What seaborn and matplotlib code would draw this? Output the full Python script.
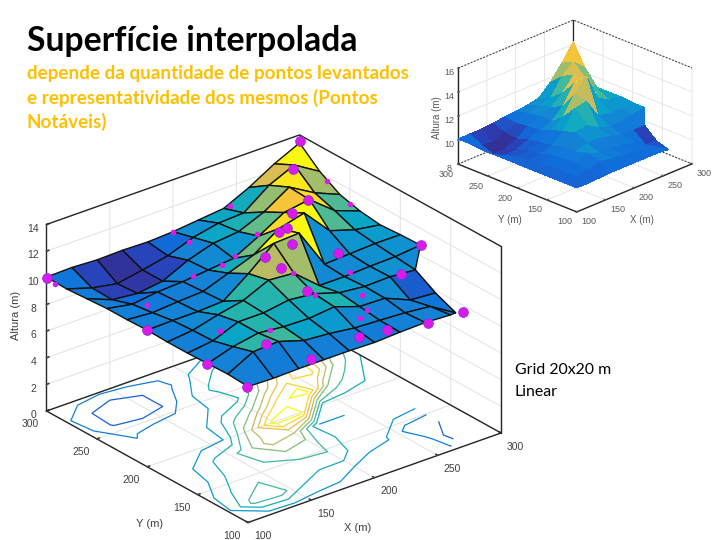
import numpy as np
import seaborn as sns
import matplotlib.pyplot as plt

sns.set_theme(style="white")
plt.rcParams['font.family'] = ['Liberation Sans', 'DejaVu Sans']

nan = np.nan
grid_x = [100, 120, 140, 160, 180, 200, 220, 240, 260, 280, 300]
grid_y = [100, 120, 140, 160, 180, 200, 220, 240, 260, 280, 300]

# rows are y, columns are x
main_z = [
    [10.2, 10.15, 10.2, 10.2, 10.2, 10.15, 10.25, 10.3, 10.2, nan, nan],
    [10.3, 11.3, 11.4, 10.8, 10.65, 10.4, 10.3, 10.2, 10.0, 8.85, nan],
    [10.25, 10.85, 11.2, 11.0, 10.95, 11.15, 10.5, 10.45, 9.65, 9.5, nan],
    [10.2, 10.45, 11.2, 11.2, 11.5, 11.3, 10.7, 10.5, 10.55, 10.4, nan],
    [10.2, 10.4, 10.9, 11.3, 12.15, 12.0, 10.4, 10.4, 10.5, 10.55, 10.75],
    [10.25, 10.3, 10.3, 10.4, 11.8, 13.4, 13.5, 10.5, 10.6, 10.7, 10.7],
    [10.2, 10.05, 10.2, 10.3, 11.0, 11.7, 13.0, 13.5, 11.5, 10.9, 10.6],
    [10.2, 9.85, 10.1, 10.2, 10.4, 10.6, 11.6, 12.7, 13.0, 11.5, 10.8],
    [10.1, 9.35, 9.15, 9.4, 10.3, 10.9, 11.1, 11.9, 13.1, 12.0, 11.2],
    [10.0, 9.4, 9.05, 9.4, 9.8, 10.5, 10.9, 11.0, 12.4, 13.25, 12.1],
    [10.05, 10.1, 10.0, 10.05, 10.0, 10.1, 10.3, 10.5, 11.4, 12.5, 13.4],
]

inset_z = [
    [10.0, 10.0, 10.05, 10.1, 10.1, 10.1, 10.1, 10.1, 10.0, nan, nan],
    [10.0, 10.1, 10.3, 10.6, 10.4, 10.3, 10.2, 10.1, 9.8, 9.2, nan],
    [10.0, 10.1, 10.4, 10.9, 10.5, 10.5, 10.4, 10.2, 9.6, 9.5, nan],
    [10.0, 10.1, 10.4, 10.6, 10.9, 10.9, 10.7, 10.4, 10.4, 10.4, nan],
    [10.0, 10.0, 10.3, 10.6, 11.4, 11.6, 11.0, 10.7, 10.7, 10.9, 11.1],
    [10.0, 9.9, 10.0, 10.3, 11.1, 12.6, 12.8, 11.2, 11.0, 11.0, 11.1],
    [10.0, 9.8, 9.9, 10.2, 10.8, 11.5, 13.0, 14.1, 11.9, 11.3, 11.2],
    [10.0, 9.5, 9.6, 10.0, 10.4, 10.7, 11.6, 13.1, 13.0, 11.8, 11.2],
    [10.0, 9.2, 9.2, 9.7, 10.3, 10.8, 11.1, 11.9, 13.0, 12.3, 11.2],
    [10.1, 9.6, 9.4, 9.8, 10.2, 10.6, 10.9, 11.1, 12.5, 13.3, 12.4],
    [10.1, 10.1, 10.1, 10.2, 10.3, 10.4, 10.5, 10.7, 11.6, 12.8, 14.2],
]

contour_levels = [9.4, 9.9, 10.4, 10.8, 11.2, 11.6, 12.0, 12.4, 12.8, 13.2]

# survey points that sit on top of the surface
top_x = [298.4, 275.7, 256.8, 240.4, 224.5, 216.9, 213.1, 192.8, 202.3, 299.8, 252.7, 270.8,
         278.9, 244.2, 216.2, 196.4, 156.8, 138.6, 101.6, 100.0, 100.0, 100.4, 202.8]
top_y = [297.6, 275.6, 236.9, 232.2, 218.0, 215.8, 197.9, 183.7, 170.2, 179.1, 202.0, 162.9,
         111.6, 102.4, 108.2, 110.8, 109.1, 131.0, 103.3, 140.2, 200.7, 300.0, 212.2]
top_z = [13.7, 13.25, 13.2, 13.0, 13.0, 13.0, 13.0, 12.5, 11.0, 10.8, 10.8, 10.3,
         9.3, 10.0, 10.2, 10.2, 10.0, 10.8, 10.0, 10.2, 10.2, 10.0, 11.8]

# survey points mostly hidden by the surface
low_x = [101.1, 200.2, 198.9, 244.9, 296.5, 299.0, 230.2, 204.0, 190.0, 171.1, 124.5, 134.0,
         152.9, 205.6, 205.1, 245.8, 231.1, 223.0, 212.9]
low_y = [292.6, 300.0, 282.8, 300.0, 267.9, 248.5, 254.8, 243.5, 238.5, 243.6, 231.3, 170.5,
         144.6, 188.3, 165.5, 181.8, 151.8, 136.1, 130.5]
low_z = [9.8, 10.1, 10.1, 10.5, 12.0, 11.0, 10.8, 10.5, 10.5, 10.1, 10.0, 10.3,
         10.8, 11.5, 10.8, 10.5, 10.5, 10.3, 10.3]

xy_ticks = [100, 150, 200, 250, 300]
main_z_ticks = [0, 2, 4, 6, 8, 10, 12, 14]
inset_z_ticks = [8, 10, 12, 14, 16]

parula = sns.blend_palette(["#352a87", "#2b3fb8", "#0f6fdc", "#1485d4", "#06a4ca", "#2eb7a4",
                            "#87bf77", "#d1bb59", "#fec832", "#f9fb0e"], as_cmap=True)
TEXT_GREY = "#404040"


def px_axes(fig, left, bottom, side, zoom, aspect, elev, azim):
    # left/bottom/side in pixels of the 720x540 figure
    ax = fig.add_axes([left / 720, bottom / 540, side / 720, side / 540],
                      projection="3d", computed_zorder=False)
    ax.set_proj_type("ortho")
    ax.view_init(elev=elev, azim=azim)
    ax.set_box_aspect(aspect, zoom=zoom)
    ax.patch.set_alpha(0)
    return ax


def style_axes(ax, zlim, zticks, fs, grid_col, text_col, pad):
    ax.set_xlim(100, 300)
    ax.set_ylim(100, 300)
    ax.set_zlim(*zlim)
    ax.set_xticks(xy_ticks)
    ax.set_yticks(xy_ticks)
    ax.set_zticks(zticks)
    for axis in (ax.xaxis, ax.yaxis, ax.zaxis):
        axis.set_pane_color((1, 1, 1, 0))
        axis._axinfo["grid"].update(color=grid_col, linewidth=0.7)
        axis._axinfo["tick"].update(inward_factor=0, outward_factor=0.12)
        axis.line.set_color("#262626")
        axis.line.set_linewidth(1.0)
    ax.tick_params(labelsize=fs, colors=text_col, pad=pad)
    # nudge the labels clear of the front corner
    for t in ax.xaxis.get_major_ticks():
        t.label1.set_ha("left")
    for t in ax.yaxis.get_major_ticks():
        t.label1.set_ha("right")


def flat_colors(z, vmin, vmax):
    # colour of a cell is taken from its lowest corner, like flat shading
    return parula(np.clip((np.nan_to_num(z, nan=vmin) - vmin) / (vmax - vmin), 0, 1))


def label_px(x, y, s, fs, rot=0, col=TEXT_GREY):
    fig.text(x / 720, 1 - y / 540, s, fontsize=fs, color=col, rotation=rot, ha="center", va="center")


fig = plt.figure(figsize=(7.2, 5.4), dpi=100, facecolor="white")

X, Y = np.meshgrid(grid_x, grid_y)
Z = np.array(main_z)
Z2 = np.array(inset_z)

# main panel
ax = px_axes(fig, -52.3, -114.8, 635, 0.768, (324, 322.6, 208), 26.26, -128.65)
style_axes(ax, (0, 14), main_z_ticks, 7.5, "#e2e2e2", TEXT_GREY, -1)
ax.contour(X, Y, np.ma.masked_invalid(Z), levels=contour_levels, zdir="z", offset=0,
           cmap=parula, vmin=8.5, vmax=13.2, linewidths=0.9, zorder=1)
ax.plot([100, 300, 300], [300, 300, 100], [14, 14, 14], color="#262626", lw=1.0, zorder=1)
ax.plot([100, 300, 300], [300, 300, 100], [0, 0, 0], color="#262626", lw=1.0, zorder=1)
ax.plot([300, 300], [100, 100], [0, 14], color="#262626", lw=1.0, zorder=1)
ax.plot([300, 300], [300, 300], [0, 14], color="#262626", lw=1.0, zorder=1)
ax.plot_surface(X, Y, np.ma.masked_invalid(Z), rstride=1, cstride=1, facecolors=flat_colors(Z, 8.85, 13.3),
                edgecolor="#111111", linewidth=1.0, shade=False, antialiased=True, zorder=2)
ax.scatter(low_x, low_y, low_z, s=16, color="#d81be8", depthshade=False, linewidths=0, zorder=3)
ax.scatter(top_x, top_y, top_z, s=50, color="#d81be8", edgecolor="#8a2be2", linewidths=0.5,
           depthshade=False, zorder=4)
label_px(358, 528, "X (m)", 8)
label_px(150, 524, "Y (m)", 8)
label_px(16, 315, "Altura (m)", 8, 90)

# small panel, top right
ax2 = px_axes(fig, 395.8, 244.8, 349, 0.7135, (164, 166, 105), 24.2, -135.5)
style_axes(ax2, (8, 16), inset_z_ticks, 6.5, "#e6e6e6", "#5a5a5a", -3)
dash = (0, (2, 1.5))
ax2.plot([100, 300, 300], [300, 300, 100], [16, 16, 16], color="#333333", lw=0.7, ls=dash, zorder=1)
ax2.plot([100, 300, 300], [300, 300, 100], [8, 8, 8], color="#333333", lw=0.7, ls=dash, zorder=1)
ax2.plot([300, 300], [300, 300], [8, 16], color="#222222", lw=0.9, zorder=1)
ax2.plot_surface(X, Y, np.ma.masked_invalid(Z2), rstride=1, cstride=1, facecolors=flat_colors(Z2, 9.0, 14.0),
                 edgecolor="none", linewidth=0, shade=False, antialiased=False, zorder=2)
label_px(642, 220, "X (m)", 7, col="#5a5a5a")
label_px(510, 220, "Y (m)", 7, col="#5a5a5a")
label_px(437, 118, "Altura (m)", 7, 90, col="#5a5a5a")

# slide text
fig.text(27 / 720, 1 - 41 / 540, "Superfície interpolada", fontsize=24.3, fontweight="bold", color="black",
         family="Lato", va="center")
fig.text(27 / 720, 1 - 74 / 540, "depende da quantidade de pontos levantados", fontsize=13.6, fontweight="bold",
         color="#ffc000", family="Lato", va="center")
fig.text(27 / 720, 1 - 98 / 540, "e representatividade dos mesmos (Pontos", fontsize=13.6, fontweight="bold",
         color="#ffc000", family="Lato", va="center")
fig.text(27 / 720, 1 - 122 / 540, "Notáveis)", fontsize=13.6, fontweight="bold",
         color="#ffc000", family="Lato", va="center")
fig.text(515 / 720, 1 - 370 / 540, "Grid 20x20 m", fontsize=11.4, color="black", family="Lato", va="center")
fig.text(515 / 720, 1 - 392 / 540, "Linear", fontsize=11.4, color="black", family="Lato", va="center")

fig.savefig("out.png", dpi=100)
